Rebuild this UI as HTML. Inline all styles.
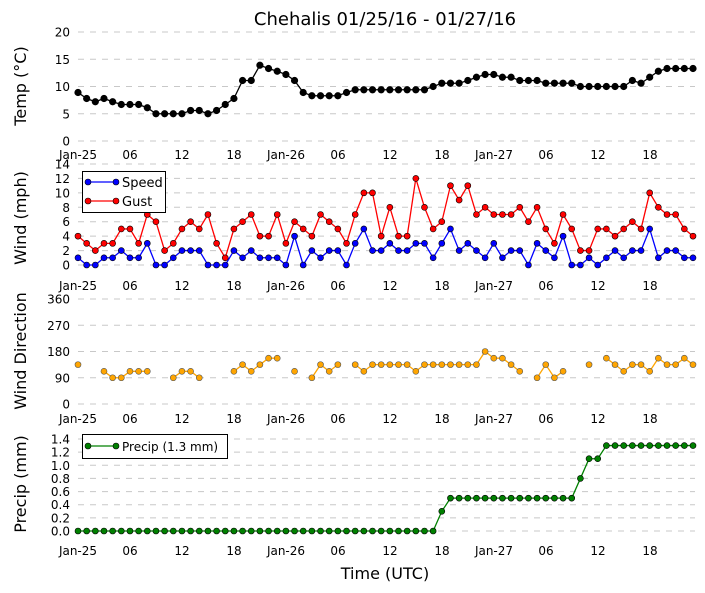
<!DOCTYPE html>
<html><head><meta charset="utf-8"><style>
body{margin:0;background:#fff;}
svg{display:block;font-family:"DejaVu Sans","Liberation Sans",sans-serif;}
</style></head><body>
<svg id="s" width="705" height="593" xmlns="http://www.w3.org/2000/svg"></svg>
<script>
const s=document.getElementById('s');let h='';
const X=i=>78+i*615/71;
const xt=['Jan-25','06','12','18','Jan-26','06','12','18','Jan-27','06','12','18'];
h+='<text x="385" y="25" font-size="18" text-anchor="middle">Chehalis 01/25/16 - 01/27/16</text>';
function panel(y0,y1,vmin,vmax,ticks,fmt,lab,ly,labY){
  const Y=v=>y1-(v-vmin)/(vmax-vmin)*(y1-y0);
  ticks.forEach(t=>{const y=Y(t);
    h+=`<line x1="78" x2="695" y1="${y}" y2="${y}" stroke="#c8c8c8" stroke-dasharray="6,6"/>`;
    h+=`<text x="70" y="${y+4.5}" font-size="12" text-anchor="end">${fmt(t)}</text>`;});
  xt.forEach((t,k)=>{h+=`<text x="${78+k*52}" y="${labY}" font-size="12" text-anchor="middle">${t}</text>`;});
  h+=`<text transform="translate(${26},${ly}) rotate(-90)" font-size="16" text-anchor="middle">${lab}</text>`;
  return Y;
}
function series(Y,d,col,r,edge){
  let segs=[],cur=[];
  d.forEach((v,i)=>{if(v===null){if(cur.length)segs.push(cur);cur=[];}else cur.push([X(i),Y(v)]);});
  if(cur.length)segs.push(cur);
  segs.forEach(sg=>{if(sg.length>1)h+=`<polyline fill="none" stroke="${col}" stroke-width="1.3" points="${sg.map(p=>p.join(',')).join(' ')}"/>`;});
  segs.flat().forEach(p=>{h+=`<circle cx="${p[0]}" cy="${p[1]}" r="${r}" fill="${col}" stroke="${edge}" stroke-width="0.6"/>`;});
}
let Yt=panel(32,141,0,20,[0,5,10,15,20],t=>t,'Temp (°C)',86,159);
const temp=[8.9,7.8,7.2,7.8,7.2,6.7,6.7,6.7,6.1,5,5,5,5,5.6,5.6,5,5.6,6.7,7.8,11.1,11.1,13.9,13.3,12.8,12.2,11.1,8.9,8.3,8.3,8.3,8.3,8.9,9.4,9.4,9.4,9.4,9.4,9.4,9.4,9.4,9.4,10,10.6,10.6,10.6,11.1,11.7,12.2,12.2,11.7,11.7,11.1,11.1,11.1,10.6,10.6,10.6,10.6,10,10,10,10,10,10,11.1,10.6,11.7,12.8,13.3,13.3,13.3,13.3];
series(Yt,temp,'#000',3.3,'#000');
let Yw=panel(164,265,0,14,[0,2,4,6,8,10,12,14],t=>t,'Wind (mph)',218,290);
const sp=[1,0,0,1,1,2,1,1,3,0,0,1,2,2,2,0,0,0,2,1,2,1,1,1,0,4,0,2,1,2,2,0,3,5,2,2,3,2,2,3,3,1,3,5,2,3,2,1,3,1,2,2,0,3,2,1,4,0,0,1,0,1,2,1,2,2,5,1,2,2,1,1];
const gu=[4,3,2,3,3,5,5,3,7,6,2,3,5,6,5,7,3,1,5,6,7,4,4,7,3,6,5,4,7,6,5,3,7,10,10,4,8,4,4,12,8,5,6,11,9,11,7,8,7,7,7,8,6,8,5,3,7,5,2,2,5,5,4,5,6,5,10,8,7,7,5,4];
series(Yw,sp,'#0000ff',3,'#000');
series(Yw,gu,'#ff0000',3,'#000');
h+='<rect x="82.5" y="171.5" width="83" height="41" fill="#fff" stroke="#000"/>';
h+='<line x1="88" x2="116" y1="182" y2="182" stroke="#00f" stroke-width="1.3"/><circle cx="88" cy="182" r="3" fill="#00f" stroke="#000" stroke-width="0.6"/><circle cx="116" cy="182" r="3" fill="#00f" stroke="#000" stroke-width="0.6"/><text x="122" y="187" font-size="13">Speed</text>';
h+='<line x1="88" x2="116" y1="201" y2="201" stroke="#f00" stroke-width="1.3"/><circle cx="88" cy="201" r="3" fill="#f00" stroke="#000" stroke-width="0.6"/><circle cx="116" cy="201" r="3" fill="#f00" stroke="#000" stroke-width="0.6"/><text x="122" y="206" font-size="13">Gust</text>';
let Yd=panel(299,404,0,360,[0,90,180,270,360],t=>t,'Wind Direction',351,423);
const n=null;
const dir=[135,n,n,112,90,90,112,112,112,n,n,90,112,112,90,n,n,n,112,135,112,135,157,157,n,112,n,90,135,112,135,n,135,112,135,135,135,135,135,112,135,135,135,135,135,135,135,180,157,157,135,112,n,90,135,90,112,n,n,135,n,157,135,112,135,135,112,157,135,135,157,135];
series(Yd,dir,'#ffa500',3,'#555');
let Yp=panel(439,531,0,1.4,[0,0.2,0.4,0.6,0.8,1.0,1.2,1.4],t=>t.toFixed(1),'Precip (mm)',484,555);
let pr=[];for(let i=0;i<72;i++){pr.push(i<=41?0:i==42?0.3:i<=57?0.5:i==58?0.8:i<=60?1.1:1.3);}
series(Yp,pr,'#008000',3,'#000');
h+='<rect x="82.5" y="434.5" width="145" height="24" fill="#fff" stroke="#000"/>';
h+='<line x1="88" x2="116" y1="446" y2="446" stroke="#008000" stroke-width="1.3"/><circle cx="88" cy="446" r="3" fill="#008000" stroke="#000" stroke-width="0.6"/><circle cx="116" cy="446" r="3" fill="#008000" stroke="#000" stroke-width="0.6"/><text x="122" y="451" font-size="12">Precip (1.3 mm)</text>';
h+='<text x="385" y="579" font-size="16" text-anchor="middle">Time (UTC)</text>';
s.innerHTML=h;
</script>
</body></html>
